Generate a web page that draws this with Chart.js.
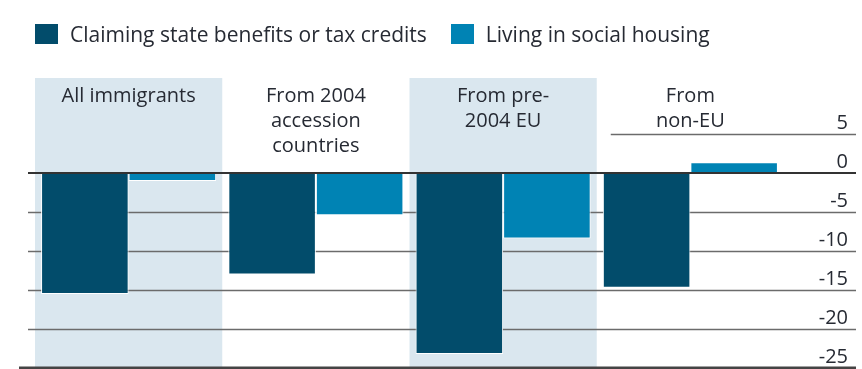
<!DOCTYPE html>
<html>
<head>
<meta charset="utf-8">
<script src="https://cdn.jsdelivr.net/npm/chart.js@4/dist/chart.umd.min.js"></script>
<style>
  html, body { margin: 0; padding: 0; background: #fff; }
  #wrap { position: relative; width: 862px; height: 369px; }
  #legend { position: absolute; left: 35px; top: 20px; font-family: 'Open Sans', sans-serif; font-size: 21px; color: #262a33; white-space: nowrap; }
  #legend span.item { display: inline-flex; align-items: center; margin-right: 24px; }
  #legend span.box { display: inline-block; width: 23px; height: 20px; margin-right: 12px; }
</style>
</head>
<body>
<div id="wrap">
  <canvas id="chart" width="862" height="369"></canvas>
  <div id="legend"></div>
</div>
<script>
const categories = [['All immigrants'], ['From 2004', 'accession', 'countries'], ['From pre-', '2004 EU'], ['From', 'non-EU']];
const seriesNames = ['Claiming state benefits or tax credits', 'Living in social housing'];
const benefits = [-15.5, -13.0, -23.2, -14.7];
const housing = [-1.0, -5.4, -8.4, 1.4];
const yTicks = [5, 0, -5, -10, -15, -20, -25];
const colors = ['#024c6b', '#0083b4'];

const textColor = '#262a33';
const shade = '#dae7ef';

document.getElementById('legend').innerHTML = seriesNames
  .map((n, i) => `<span class="item"><span class="box" style="background:${colors[i]}"></span>${n}</span>`)
  .join('');

const panels = {
  id: 'panels',
  beforeDatasetsDraw(chart) {
    const { ctx, chartArea: a, scales: { x, y } } = chart;
    const w = (a.right - a.left) / categories.length;
    ctx.save();
    // shaded panels for alternating groups
    categories.forEach((c, i) => {
      if (i % 2 === 0) {
        ctx.fillStyle = shade;
        ctx.fillRect(a.left + i * w, a.top, w, a.bottom - a.top);
      }
    });
    // gridlines under bars
    ctx.strokeStyle = '#6b6b6b';
    ctx.lineWidth = 1.5;
    yTicks.forEach(v => {
      if (v === 0 || v === -25) return;
      const py = Math.round(y.getPixelForValue(v)) + 0.5;
      const x0 = v > 0 ? a.left + 3 * w + 14 : 28;
      ctx.beginPath();
      ctx.moveTo(x0, py);
      ctx.lineTo(856, py);
      ctx.stroke();
    });
    // category labels
    ctx.fillStyle = textColor;
    ctx.font = '20px "Open Sans", sans-serif';
    ctx.textAlign = 'center';
    ctx.textBaseline = 'middle';
    categories.forEach((lines, i) => {
      const cx = x.getPixelForValue(i);
      lines.forEach((t, j) => ctx.fillText(t, cx, 96 + j * 25));
    });
    ctx.restore();
  },
  afterDatasetsDraw(chart) {
    const { ctx, scales: { y } } = chart;
    ctx.save();
    ctx.strokeStyle = '#333';
    ctx.lineWidth = 2;
    const p0 = y.getPixelForValue(0);
    ctx.beginPath(); ctx.moveTo(28, p0); ctx.lineTo(856, p0); ctx.stroke();
    ctx.strokeStyle = '#444';
    ctx.lineWidth = 3;
    const pb = y.getPixelForValue(-25);
    ctx.beginPath(); ctx.moveTo(19, pb); ctx.lineTo(856, pb); ctx.stroke();
    ctx.restore();
  }
};

new Chart(document.getElementById('chart'), {
  type: 'bar',
  data: {
    labels: categories,
    datasets: [
      { label: seriesNames[0], data: benefits, backgroundColor: colors[0], borderColor: '#fff', borderWidth: 1, borderSkipped: false },
      { label: seriesNames[1], data: housing, backgroundColor: colors[1], borderColor: '#fff', borderWidth: 1, borderSkipped: false }
    ]
  },
  options: {
    responsive: false,
    animation: false,
    layout: { padding: { left: 35, right: 14, top: 78, bottom: 1 } },
    datasets: { bar: { categoryPercentage: 0.935, barPercentage: 1 } },
    plugins: { legend: { display: false }, tooltip: { enabled: false } },
    scales: {
      x: { display: false, offset: true },
      y: {
        position: 'right',
        min: -25,
        max: 12.2,
        afterBuildTicks: s => { s.ticks = yTicks.map(v => ({ value: v })); },
        afterFit: s => { s.width = 64; s.paddingTop = 0; s.paddingBottom = 0; },
        grid: { display: false },
        border: { display: false },
        ticks: {
          crossAlign: 'far',
          padding: 0,
          labelOffset: -11,
          color: textColor,
          font: { family: '"Open Sans", sans-serif', size: 20 }
        }
      }
    }
  },
  plugins: [panels]
});
</script>
</body>
</html>
